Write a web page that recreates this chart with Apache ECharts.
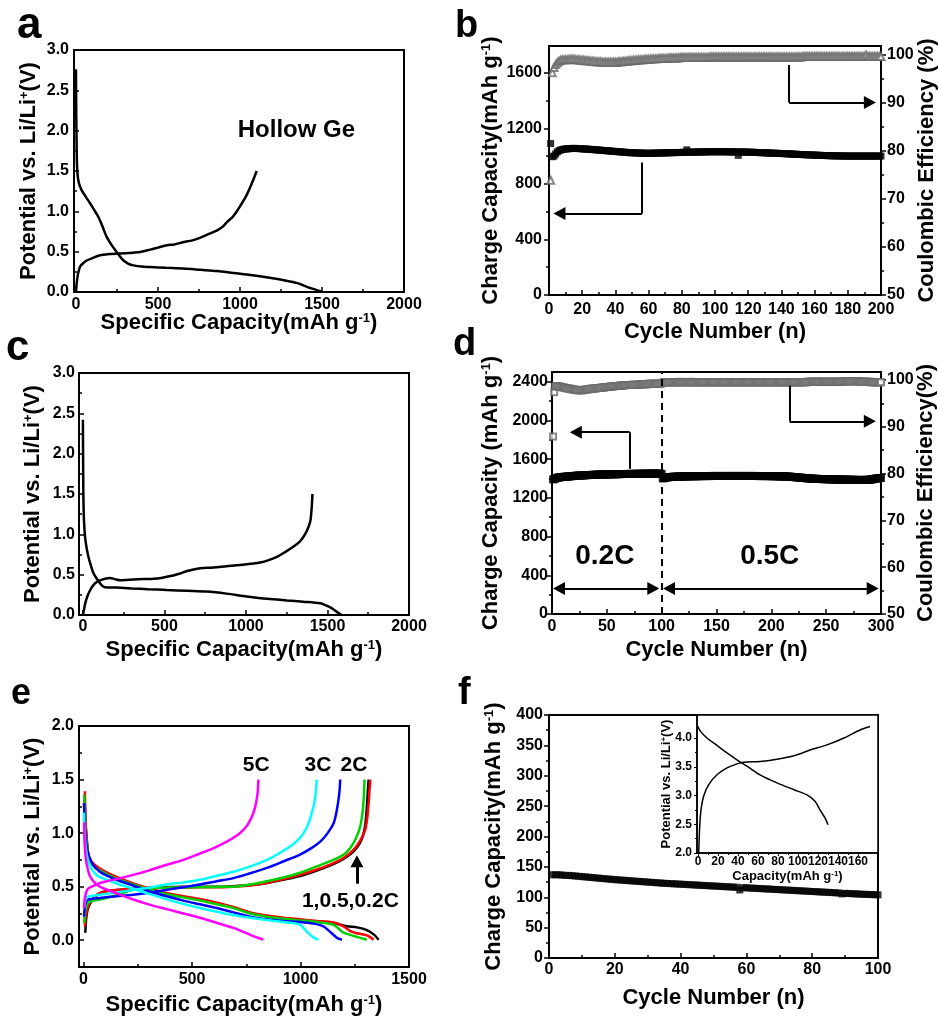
<!DOCTYPE html>
<html><head><meta charset="utf-8">
<script src="https://cdn.jsdelivr.net/npm/echarts@6/dist/echarts.min.js"></script>
<style>html,body{margin:0;padding:0;background:#fff}#c{width:938px;height:1018px}</style>
</head><body><div id="c"></div>
<script>
// ---------------- DATA ----------------
// Panel a: hollow Ge first cycle
const aDischarge = [[0,2.75],[1,2.4],[3,1.97],[6,1.6],[10,1.45],[18,1.35],[35,1.26],[60,1.18],[86,1.10],[110,1.02],[137,0.93],[160,0.82],[188,0.68],[215,0.59],[239,0.52],[265,0.45],[290,0.39],[320,0.35],[351,0.33],[400,0.315],[453,0.31],[550,0.30],[657,0.29],[760,0.275],[861,0.26],[960,0.235],[1065,0.21],[1170,0.18],[1269,0.145],[1350,0.11],[1412,0.06],[1460,0.03],[1504,0.0]];
const aCharge = [[0,0.0],[5,0.12],[12,0.22],[24,0.31],[40,0.35],[65,0.39],[100,0.42],[147,0.455],[200,0.47],[249,0.476],[300,0.48],[351,0.488],[400,0.5],[453,0.525],[500,0.55],[555,0.58],[600,0.59],[657,0.62],[710,0.64],[759,0.675],[810,0.72],[861,0.765],[895,0.81],[922,0.87],[955,0.93],[984,1.01],[1015,1.11],[1045,1.22],[1075,1.36],[1102,1.50]];
// Panel c
const cDischarge = [[0,2.42],[1,2.0],[2,1.7],[3,1.46],[6,1.2],[13,0.97],[22,0.84],[34,0.72],[48,0.62],[64,0.52],[85,0.45],[106,0.39],[120,0.36],[135,0.345],[208,0.34],[300,0.33],[400,0.32],[514,0.31],[640,0.30],[760,0.29],[880,0.265],[1005,0.23],[1130,0.2],[1251,0.18],[1350,0.165],[1456,0.145],[1490,0.12],[1517,0.095],[1540,0.065],[1557,0.04],[1575,0.015],[1588,0.0]];
const cCharge = [[0,0.0],[8,0.08],[15,0.15],[27,0.23],[45,0.31],[64,0.37],[85,0.41],[106,0.43],[135,0.45],[167,0.46],[195,0.445],[229,0.43],[270,0.435],[310,0.44],[370,0.445],[433,0.45],[480,0.46],[514,0.475],[555,0.49],[596,0.515],[640,0.545],[678,0.565],[720,0.58],[800,0.59],[880,0.605],[964,0.62],[1030,0.635],[1087,0.65],[1140,0.68],[1190,0.72],[1240,0.78],[1292,0.85],[1330,0.91],[1353,0.97],[1375,1.05],[1394,1.155],[1402,1.3],[1408,1.50]];
// Panel b: cycles 1..200
const bCapacity = [1090,995,1000,1015,1030,1038,1043,1047,1050,1051,
1052,1053,1054,1055,1055,1055,1054,1054,1053,1052,
1051,1050,1050,1049,1048,1047,1046,1045,1044,1043,
1042,1041,1040,1039,1038,1037,1036,1035,1034,1033,
1032,1031,1030,1029,1028,1027,1026,1025,1024,1024,
1023,1023,1022,1022,1021,1021,1021,1020,1020,1020,
1020,1020,1021,1021,1021,1022,1022,1022,1023,1023,
1023,1024,1024,1024,1025,1025,1025,1026,1026,1026,
1027,1027,1045,1027,1028,1028,1028,1029,1029,1029,
1029,1030,1030,1030,1030,1031,1031,1031,1031,1031,
1031,1031,1031,1031,1031,1031,1031,1030,1030,1030,
1030,1030,1030,1005,1030,1029,1029,1029,1028,1028,
1028,1027,1027,1026,1026,1025,1025,1024,1024,1023,
1023,1022,1022,1021,1021,1020,1020,1019,1019,1018,
1018,1017,1016,1016,1015,1015,1014,1013,1013,1012,
1011,1011,1010,1010,1009,1009,1008,1008,1007,1007,
1006,1006,1005,1005,1004,1004,1003,1003,1003,1002,
1002,1002,1001,1001,1001,1001,1000,1000,1000,1000,
1000,999,1000,1000,999,1000,1000,1000,999,1000,
1000,1000,999,1000,1000,1000,1000,999,1000,1000];
const bEfficiency = [73.9,96.3,97.4,98.0,98.4,98.7,98.9,99.0,99.0,99.0,
99.0,99.1,99.1,99.1,99.1,99.0,99.0,99.0,98.9,98.9,
98.9,98.8,98.8,98.8,98.7,98.7,98.7,98.6,98.6,98.6,
98.6,98.5,98.5,98.5,98.5,98.5,98.5,98.5,98.5,98.5,
98.5,98.6,98.6,98.6,98.7,98.7,98.7,98.8,98.8,98.8,
98.9,98.9,98.9,99.0,99.0,99.0,99.0,99.1,99.1,99.1,
99.1,99.2,99.2,99.2,99.2,99.3,99.3,99.3,99.3,99.3,
99.3,99.4,99.4,99.4,99.4,99.4,99.4,99.4,99.5,99.5,
99.5,99.5,99.5,99.5,99.5,99.5,99.5,99.5,99.5,99.5,
99.5,99.5,99.5,99.5,99.5,99.5,99.6,99.6,99.6,99.6,
99.6,99.6,99.6,99.6,99.6,99.6,99.6,99.6,99.6,99.6,
99.6,99.6,99.6,99.6,99.6,99.6,99.6,99.6,99.6,99.6,
99.6,99.6,99.6,99.6,99.6,99.6,99.6,99.6,99.6,99.6,
99.6,99.6,99.6,99.6,99.6,99.6,99.6,99.6,99.6,99.6,
99.6,99.6,99.6,99.6,99.6,99.6,99.6,99.6,99.6,99.6,
99.6,99.6,99.7,99.7,99.7,99.7,99.7,99.7,99.7,99.7,
99.7,99.7,99.7,99.7,99.7,99.7,99.7,99.7,99.7,99.7,
99.7,99.7,99.7,99.7,99.7,99.7,99.7,99.7,99.7,99.7,
99.7,99.7,99.7,99.7,99.7,99.7,99.7,99.7,99.7,99.7,
100.0,99.7,99.7,99.7,99.7,99.7,99.7,99.7,99.7,99.7];
// Panel d: cycles 1..300
const dCapacity = [1390,1395,1400,1405,1408,1410,1412,1414,1415,1416,
1417,1418,1419,1420,1421,1422,1423,1424,1425,1426,
1427,1428,1429,1430,1430,1431,1432,1432,1433,1434,
1434,1435,1435,1436,1436,1437,1437,1438,1438,1439,
1439,1440,1440,1440,1441,1441,1441,1442,1442,1442,
1443,1443,1443,1443,1444,1444,1444,1444,1445,1445,
1445,1445,1445,1446,1446,1446,1446,1446,1447,1447,
1447,1447,1447,1447,1448,1448,1448,1448,1448,1448,
1448,1449,1449,1449,1449,1449,1449,1449,1449,1450,
1450,1450,1450,1450,1450,1450,1450,1450,1450,1445,
1400,1404,1407,1409,1411,1413,1414,1415,1416,1417,
1418,1418,1419,1419,1420,1420,1420,1421,1421,1421,
1422,1422,1422,1422,1423,1423,1423,1423,1423,1424,
1424,1424,1424,1424,1424,1425,1425,1425,1425,1425,
1425,1425,1425,1425,1426,1426,1426,1426,1426,1426,
1426,1426,1426,1426,1426,1426,1426,1426,1426,1426,
1426,1426,1426,1426,1426,1426,1426,1426,1426,1426,
1426,1426,1426,1426,1426,1426,1426,1426,1426,1426,
1426,1426,1426,1426,1426,1426,1426,1425,1425,1425,
1425,1425,1425,1425,1425,1425,1425,1424,1424,1424,
1424,1424,1424,1423,1423,1423,1423,1422,1422,1422,
1421,1421,1420,1420,1419,1419,1418,1417,1416,1415,
1414,1413,1412,1411,1410,1409,1408,1407,1406,1405,
1404,1403,1402,1401,1400,1399,1398,1398,1397,1397,
1396,1396,1395,1395,1394,1394,1394,1393,1393,1393,
1392,1392,1392,1391,1391,1391,1390,1390,1390,1390,
1389,1389,1389,1389,1388,1388,1388,1388,1387,1387,
1387,1387,1386,1386,1386,1386,1385,1385,1385,1385,
1385,1385,1385,1385,1385,1385,1386,1386,1387,1388,
1390,1392,1394,1396,1398,1400,1402,1404,1405,1406];
const dEfficiency = [87.9,97.4,98.6,98.7,98.7,98.6,98.6,98.5,98.5,98.4,
98.4,98.3,98.3,98.2,98.2,98.1,98.1,98.0,98.0,97.9,
97.9,97.9,97.8,97.8,97.8,97.8,97.8,97.8,97.9,97.9,
97.9,98.0,98.0,98.0,98.1,98.1,98.1,98.2,98.2,98.2,
98.3,98.3,98.3,98.3,98.4,98.4,98.4,98.4,98.5,98.5,
98.5,98.5,98.6,98.6,98.6,98.6,98.7,98.7,98.7,98.7,
98.7,98.8,98.8,98.8,98.8,98.8,98.9,98.9,98.9,98.9,
98.9,98.9,99.0,99.0,99.0,99.0,99.0,99.0,99.0,99.1,
99.1,99.1,99.1,99.1,99.1,99.1,99.1,99.2,99.2,99.2,
99.2,99.2,99.2,99.2,99.2,99.2,99.2,99.2,99.2,99.3,
99.4,99.5,99.5,99.5,99.5,99.5,99.5,99.5,99.5,99.5,
99.5,99.5,99.5,99.5,99.5,99.5,99.6,99.5,99.5,99.5,
99.5,99.5,99.5,99.5,99.5,99.6,99.5,99.5,99.5,99.5,
99.5,99.5,99.5,99.5,99.5,99.5,99.5,99.5,99.5,99.5,
99.5,99.5,99.5,99.5,99.5,99.5,99.5,99.5,99.5,99.5,
99.5,99.5,99.5,99.5,99.5,99.5,99.5,99.5,99.5,99.5,
99.5,99.5,99.5,99.5,99.5,99.5,99.5,99.5,99.5,99.5,
99.5,99.5,99.5,99.5,99.5,99.5,99.5,99.5,99.5,99.5,
99.5,99.5,99.5,99.5,99.5,99.5,99.5,99.5,99.5,99.5,
99.5,99.5,99.5,99.5,99.5,99.5,99.5,99.5,99.5,99.5,
99.5,99.5,99.5,99.5,99.5,99.5,99.5,99.5,99.5,99.5,
99.5,99.5,99.5,99.5,99.5,99.5,99.5,99.5,99.5,99.5,
99.5,99.5,99.5,99.5,99.5,99.5,99.5,99.5,99.5,99.5,
99.5,99.5,99.6,99.6,99.6,99.6,99.6,99.6,99.6,99.6,
99.6,99.6,99.6,99.6,99.6,99.6,99.6,99.6,99.6,99.6,
99.6,99.6,99.6,99.6,99.6,99.6,99.6,99.6,99.6,99.6,
99.6,99.6,99.6,99.6,99.6,99.7,99.7,99.7,99.7,99.7,
99.7,99.7,99.7,99.7,99.7,99.7,99.7,99.7,99.7,99.7,
99.6,99.6,99.6,99.6,99.6,99.6,99.6,99.6,99.6,99.6,
99.5,99.5,99.5,99.5,99.5,99.5,99.5,99.5,99.5,99.5];
// Panel e: rate capability (charge = rising, discharge = falling)
const eNames = ['0.2C','0.5C','1C','2C','3C','5C'];
const eColors = ['#000000','#ff0000','#00d000','#0000ff','#00ffff','#ff00ff'];
const eCharge = [
 [[8,0.07],[12,0.2],[18,0.28],[29,0.34],[50,0.4],[75,0.44],[110,0.46],[152,0.47],[229,0.48],[306,0.49],[383,0.495],[460,0.5],[537,0.5],[614,0.5],[691,0.505],[768,0.515],[845,0.535],[920,0.565],[998,0.60],[1075,0.65],[1152,0.71],[1200,0.76],[1245,0.83],[1275,0.91],[1291,1.0],[1300,1.1],[1306,1.25],[1310,1.38],[1314,1.50]],
 [[6,0.13],[10,0.22],[18,0.3],[29,0.35],[50,0.41],[75,0.44],[110,0.46],[152,0.47],[229,0.48],[306,0.488],[383,0.49],[460,0.492],[537,0.495],[614,0.495],[691,0.5],[768,0.51],[845,0.535],[920,0.57],[998,0.61],[1075,0.66],[1152,0.72],[1200,0.77],[1245,0.845],[1275,0.93],[1298,1.03],[1308,1.15],[1314,1.28],[1318,1.4],[1322,1.50]],
 [[3,0.16],[6,0.25],[12,0.31],[22,0.35],[45,0.37],[75,0.38],[152,0.42],[229,0.47],[306,0.485],[383,0.49],[460,0.493],[537,0.495],[614,0.498],[691,0.50],[768,0.52],[845,0.55],[920,0.585],[998,0.63],[1075,0.69],[1152,0.75],[1200,0.80],[1229,0.86],[1255,0.95],[1275,1.06],[1285,1.18],[1291,1.31],[1293,1.4],[1295,1.50]],
 [[2,0.22],[5,0.3],[10,0.35],[22,0.38],[75,0.395],[152,0.41],[229,0.425],[306,0.445],[383,0.47],[460,0.495],[537,0.52],[614,0.55],[691,0.58],[768,0.625],[845,0.675],[920,0.735],[998,0.80],[1050,0.86],[1091,0.92],[1125,1.0],[1152,1.09],[1165,1.19],[1175,1.31],[1180,1.4],[1183,1.50]],
 [[2,0.30],[8,0.37],[15,0.40],[29,0.41],[75,0.425],[150,0.445],[229,0.47],[300,0.49],[383,0.52],[460,0.54],[537,0.565],[610,0.6],[691,0.64],[770,0.69],[845,0.75],[900,0.81],[952,0.875],[985,0.93],[1014,1.0],[1035,1.08],[1052,1.19],[1062,1.27],[1068,1.34],[1075,1.50]],
 [[2,0.30],[5,0.38],[11,0.44],[20,0.48],[37,0.50],[70,0.53],[106,0.55],[160,0.575],[229,0.61],[300,0.65],[383,0.705],[460,0.75],[537,0.81],[600,0.86],[660,0.92],[705,0.975],[737,1.03],[760,1.09],[783,1.19],[795,1.28],[802,1.37],[806,1.50]]
];
const eDischarge = [
 [[5,1.32],[8,1.15],[11,1.02],[16,0.9],[22,0.8],[35,0.73],[60,0.68],[100,0.635],[152,0.585],[229,0.525],[306,0.475],[383,0.435],[460,0.405],[537,0.38],[614,0.345],[691,0.305],[768,0.255],[845,0.225],[920,0.205],[998,0.19],[1075,0.175],[1152,0.16],[1214,0.13],[1260,0.12],[1306,0.095],[1340,0.05],[1360,0.005]],
 [[6,1.39],[8,1.2],[11,1.06],[16,0.92],[22,0.81],[35,0.74],[60,0.69],[100,0.64],[152,0.59],[229,0.53],[306,0.48],[383,0.44],[460,0.41],[537,0.385],[614,0.35],[691,0.31],[768,0.26],[845,0.23],[920,0.21],[998,0.195],[1075,0.18],[1152,0.165],[1198,0.13],[1230,0.085],[1260,0.065],[1306,0.045],[1337,0.005]],
 [[3,1.36],[5,1.2],[9,1.02],[14,0.9],[22,0.79],[35,0.72],[60,0.67],[100,0.625],[152,0.575],[229,0.52],[306,0.47],[383,0.43],[460,0.4],[537,0.37],[614,0.335],[691,0.3],[768,0.25],[845,0.22],[920,0.2],[998,0.185],[1075,0.17],[1152,0.145],[1180,0.1],[1198,0.07],[1245,0.04],[1280,0.02],[1306,0.005]],
 [[2,1.28],[5,1.1],[8,1.0],[14,0.88],[25,0.78],[45,0.70],[75,0.64],[110,0.60],[152,0.565],[229,0.51],[306,0.455],[383,0.41],[460,0.37],[537,0.335],[614,0.30],[691,0.26],[768,0.22],[845,0.195],[920,0.18],[998,0.17],[1060,0.155],[1106,0.13],[1130,0.09],[1152,0.05],[1170,0.02],[1191,0.005]],
 [[2,1.19],[5,1.0],[10,0.87],[20,0.75],[35,0.67],[60,0.61],[100,0.57],[152,0.53],[229,0.48],[306,0.43],[420,0.36],[537,0.30],[650,0.25],[768,0.21],[880,0.18],[960,0.16],[998,0.145],[1020,0.10],[1045,0.05],[1065,0.02],[1083,0.005]],
 [[2,1.1],[5,0.9],[11,0.75],[20,0.66],[29,0.60],[50,0.54],[75,0.50],[150,0.44],[229,0.38],[300,0.335],[383,0.29],[460,0.25],[537,0.21],[610,0.165],[691,0.115],[740,0.075],[768,0.05],[800,0.025],[829,0.005]]
];
// Panel f: cycles 1..100
const fCapacity = [137,137,137,136.5,136,136,135.5,135,134.5,134,
133.5,133,132.5,132,131.5,131,130.5,130,129.5,129,
128.6,128.2,127.8,127.4,127,126.6,126.2,125.8,125.4,125,
124.6,124.2,123.8,123.4,123,122.7,122.4,122.1,121.8,121.5,
121.2,120.9,120.6,120.3,120,119.7,119.4,119.1,118.8,118.5,
118.2,117.9,117.6,117.3,117,116.7,116.4,112,115.8,115.5,
115.2,114.9,114.6,114.3,114,113.7,113.4,113.1,112.8,112.5,
112.2,111.9,111.6,111.3,111,110.7,110.4,110.1,109.8,109.5,
109.2,108.9,108.6,108.3,108,107.7,107.4,107.1,105.5,106.5,
106.2,105.9,105.6,105.3,105,104.8,104.6,104.4,104.2,104];
// Panel f inset
const insetDischarge = [[0,4.20],[2.3,4.12],[9,4.0],[19,3.87],[29,3.74],[39,3.62],[49,3.51],[62,3.36],[79,3.22],[96,3.10],[109,3.01],[117,2.90],[122,2.75],[127,2.61],[130,2.49]];
const insetCharge = [[0.7,2.0],[1.7,2.46],[3,2.75],[5.7,2.99],[10.7,3.19],[19,3.36],[29,3.48],[39,3.55],[45.7,3.58],[62,3.59],[79,3.63],[96,3.69],[112,3.79],[129,3.88],[146,4.0],[162,4.14],[172,4.20]];
// Tick label values
const capTicksA = [0,500,1000,1500,2000];
const potTicksA = [0,0.5,1.0,1.5,2.0,2.5,3.0];
const cycTicksB = [0,20,40,60,80,100,120,140,160,180,200];
const capTicksB = [0,400,800,1200,1600];
const ceTicks = [50,60,70,80,90,100];
const cycTicksD = [0,50,100,150,200,250,300];
const capTicksD = [0,400,800,1200,1600,2000,2400];
const capTicksE = [0,500,1000,1500];
const potTicksE = [0,0.5,1.0,1.5,2.0];
const cycTicksF = [0,20,40,60,80,100];
const capTicksF = [0,50,100,150,200,250,300,350,400];
const insetXTicks = [0,20,40,60,80,100,120,140,160];
const insetYTicks = [2.0,2.5,3.0,3.5,4.0];
// Annotations (data coordinates)
const bArrowLeft = [[56.1,954],[56.1,586],[6.3,586]];
const bArrowRight = [[144.7,1655],[144.7,1386],[193.3,1386]];
const dArrowLeft = [[70.8,1500],[70.8,1878],[21.7,1878]];
const dArrowRight = [[216.7,2359],[216.7,1991],[289.8,1991]];
const dSpan1 = [[6.4,264],[92.4,264]];
const dSpan2 = [[106.7,264],[292.4,264]];
const dRateSwitch = 100;
const eArrow = [[1260,0.528],[1260,0.737]];
const aLabels = [{text:'Hollow Ge', pos:[1347,2.0]}];
const dLabels = [{text:'0.2C', pos:[48.6,590]},{text:'0.5C', pos:[199,590]}];
const eLabels = [{text:'5C', pos:[798,1.627]},{text:'3C', pos:[1083,1.627]},{text:'2C', pos:[1249,1.627]},{text:'1,0.5,0.2C', pos:[1232,0.36]}];

// ---------------- BUILD ----------------
const FONT = '"Liberation Sans", Arial, Helvetica, sans-serif';
const grids = [], xAxis = [], yAxis = [], series = [];
const minorOf = (ticks) => { const out=[]; for (let i=0;i<ticks.length-1;i++) out.push((ticks[i]+ticks[i+1])/2); return out; };

function addGrid(left, top, width, height, extra) {
  grids.push(Object.assign({left, top, width, height, show:true, borderColor:'#000', borderWidth:2,
    backgroundColor:'transparent', containLabel:false, outerBoundsMode:'none'}, extra||{}));
  return grids.length - 1;
}
function nameStyle(size, sup) {
  return {fontSize:size, fontWeight:'bold', fontFamily:FONT, color:'#000',
    rich:{s:{fontSize:sup, fontWeight:'bold', fontFamily:FONT, color:'#000', verticalAlign:'top'}}};
}
function addAxes(list, gi, c) {
  const idx = list.length;
  list.push({type:'value', gridIndex:gi, min:c.min, max:c.max, position:c.pos,
    splitLine:{show:false},
    axisLine:{show:true, onZero:false, lineStyle:{color:'#000', width:c.lw||2}},
    axisTick:{show:true, inside:c.inside, length:c.tl||5, customValues:c.major, lineStyle:{color:'#000', width:c.tw||1.5}},
    axisLabel:{show:true, customValues:c.major, formatter:c.fmt||(v=>String(v)), fontSize:c.fs||16, fontWeight:'bold',
      fontFamily:FONT, color:'#000', margin:c.margin, hideOverlap:false},
    name:c.name, nameLocation:'middle', nameGap:c.gap, nameRotate:c.rot, nameMoveOverlap:false,
    nameTextStyle:nameStyle(c.nfs||22, c.sfs||13)});
  list.push({type:'value', gridIndex:gi, min:c.min, max:c.max, position:c.pos, splitLine:{show:false},
    axisLine:{show:false, onZero:false}, axisLabel:{show:false},
    axisTick:{show:true, inside:c.inside, length:c.mtl||3, customValues:c.minor||minorOf(c.major), lineStyle:{color:'#000', width:c.tw||1.5}}});
  return idx;
}
const f1 = v => v.toFixed(1);
function addLine(xi, yi, data, color, width) {
  series.push({type:'line', xAxisIndex:xi, yAxisIndex:yi, data, showSymbol:false, symbol:'none', smooth:0.3,
    lineStyle:{color, width}, itemStyle:{color}, silent:true, clip:true, z:3});
}
function addLabels(xi, yi, items, fs) {
  series.push({type:'scatter', xAxisIndex:xi, yAxisIndex:yi, symbolSize:1, itemStyle:{color:'rgba(255,255,255,0)'}, silent:true, z:6,
    label:{show:true, position:[0,0], align:'center', verticalAlign:'middle', fontSize:fs, fontWeight:'bold', fontFamily:FONT,
      color:'#000', opacity:1, textBorderWidth:0, formatter:p=>p.data.text},
    labelLayout:{hideOverlap:false},
    data: items.map(it=>({value:it.pos, text:it.text}))});
}
function polyArrow(pts) {
  const out = [];
  for (let i=0;i<pts.length-1;i++) {
    const last = i === pts.length-2;
    out.push([{coord:pts[i], symbol:'none'}, {coord:pts[i+1], symbol:last?'triangle':'none', symbolSize:[13,12]}]);
  }
  return out;
}
function doubleArrow(pts) {
  return [[{coord:pts[0], symbol:'triangle', symbolSize:[13,12]}, {coord:pts[1], symbol:'triangle', symbolSize:[13,12]}]];
}
const mlBase = {silent:true, animation:false, symbol:['none','none'], label:{show:false}, lineStyle:{color:'#000', width:2, type:'solid'}, emphasis:{disabled:true}};
const cyc = arr => arr.map((v,i)=>[i+1, v]);

// Panel a
let g = addGrid(74, 50, 330, 242);
let xi = addAxes(xAxis, g, {min:-12, max:2000, pos:'bottom', inside:true, major:capTicksA, margin:5,
  name:'Specific Capacity(mAh g{s|-1})', gap:20});
let yi = addAxes(yAxis, g, {min:0, max:3, pos:'left', inside:true, major:potTicksA, fmt:f1, margin:5,
  name:'Potential vs. Li/Li{s|+}(V)', gap:34, rot:90});
addLine(xi, yi, aDischarge, '#000', 2.5);
addLine(xi, yi, aCharge, '#000', 2.5);
addLabels(xi, yi, aLabels, 24);

// Panel b
g = addGrid(549, 46, 332, 249);
xi = addAxes(xAxis, g, {min:0, max:200, pos:'bottom', inside:true, major:cycTicksB, margin:7, name:'Cycle Number (n)', gap:26});
yi = addAxes(yAxis, g, {min:0, max:1792, pos:'left', inside:false, major:capTicksB, margin:7,
  name:'Charge Capacity(mAh g{s|-1})', gap:47, rot:90});
let yr = addAxes(yAxis, g, {min:50, max:101.88, pos:'right', inside:false, major:ceTicks, margin:6,
  name:'Coulombic Efficiency (%)', gap:35, rot:90});
series.push({type:'scatter', xAxisIndex:xi, yAxisIndex:yr, data:cyc(bEfficiency), symbol:'emptyTriangle', symbolSize:7,
  itemStyle:{color:'#6a6a6a', borderWidth:1}, silent:true, z:3});
series.push({type:'scatter', xAxisIndex:xi, yAxisIndex:yi, data:cyc(bCapacity), symbol:'rect', symbolSize:7,
  itemStyle:{color:'#000'}, silent:true, z:3,
  markLine:Object.assign({}, mlBase, {data:[...polyArrow(bArrowLeft), ...polyArrow(bArrowRight)]})});

// Panel c
g = addGrid(79, 373, 330, 242);
xi = addAxes(xAxis, g, {min:-24, max:2000, pos:'bottom', inside:true, major:capTicksA, margin:4,
  name:'Specific Capacity(mAh g{s|-1})', gap:24});
yi = addAxes(yAxis, g, {min:0, max:3, pos:'left', inside:true, major:potTicksA, fmt:f1, margin:4,
  name:'Potential vs. Li/Li{s|+}(V)', gap:35, rot:90});
addLine(xi, yi, cDischarge, '#000', 2.5);
addLine(xi, yi, cCharge, '#000', 2.5);

// Panel d
g = addGrid(552, 372, 329, 242);
xi = addAxes(xAxis, g, {min:0, max:300, pos:'bottom', inside:true, major:cycTicksD, margin:5, name:'Cycle Number (n)', gap:25});
yi = addAxes(yAxis, g, {min:0, max:2500, pos:'left', inside:false, major:capTicksD, margin:4,
  name:'Charge Capacity (mAh g{s|-1})', gap:50, rot:90});
yr = addAxes(yAxis, g, {min:50, max:101.7, pos:'right', inside:false, major:ceTicks, margin:6,
  name:'Coulombic Efficiency(%)', gap:34, rot:90});
series.push({type:'scatter', xAxisIndex:xi, yAxisIndex:yr, data:cyc(dEfficiency), symbol:'emptyRect', symbolSize:6,
  itemStyle:{color:'#6a6a6a', borderWidth:1}, silent:true, z:3});
series.push({type:'scatter', xAxisIndex:xi, yAxisIndex:yi, data:cyc(dCapacity), symbol:'rect', symbolSize:8,
  itemStyle:{color:'#000'}, silent:true, z:3,
  markLine:Object.assign({}, mlBase, {data:[...polyArrow(dArrowLeft), ...polyArrow(dArrowRight), ...doubleArrow(dSpan1), ...doubleArrow(dSpan2),
    {xAxis:dRateSwitch, lineStyle:{type:[7,5], width:2, color:'#000'}}]})});
addLabels(xi, yi, dLabels, 28);

// Panel e
g = addGrid(79, 726, 330, 241);
xi = addAxes(xAxis, g, {min:-21, max:1500, pos:'bottom', inside:true, major:capTicksE, margin:5,
  name:'Specific Capacity(mAh g{s|-1})', gap:27});
yi = addAxes(yAxis, g, {min:-0.25, max:2.0, pos:'left', inside:true, major:potTicksE, fmt:f1, margin:5,
  name:'Potential vs. Li/Li{s|+}(V)', gap:35, rot:90});
for (let k=0;k<eNames.length;k++) {
  addLine(xi, yi, eDischarge[k], eColors[k], 2.5);
  addLine(xi, yi, eCharge[k], eColors[k], 2.5);
}
series.push({type:'scatter', xAxisIndex:xi, yAxisIndex:yi, data:[], silent:true,
  markLine:Object.assign({}, mlBase, {lineStyle:{color:'#000', width:3, type:'solid'}, data:polyArrow(eArrow)})});
addLabels(xi, yi, eLabels, 21);

// Panel f
g = addGrid(549, 715, 329, 243);
xi = addAxes(xAxis, g, {min:0, max:100, pos:'bottom', inside:true, major:cycTicksF, margin:4, name:'Cycle Number (n)', gap:29});
yi = addAxes(yAxis, g, {min:0, max:400, pos:'left', inside:false, major:capTicksF, margin:6,
  name:'Charge Capacity(mAh g{s|-1})', gap:44, rot:90});
series.push({type:'scatter', xAxisIndex:xi, yAxisIndex:yi, data:cyc(fCapacity), symbol:'rect', symbolSize:7,
  itemStyle:{color:'#000'}, silent:true, z:3});

// Inset
g = addGrid(697, 715, 181, 138, {backgroundColor:'#fff', borderWidth:1.5});
xi = addAxes(xAxis, g, {min:-1, max:180, pos:'bottom', inside:false, major:insetXTicks, margin:3, fs:12, lw:1.5, tw:1, tl:3, mtl:2,
  name:'Capacity(mAh g{s|-1})', gap:17, nfs:13, sfs:8});
yi = addAxes(yAxis, g, {min:2.0, max:4.4, pos:'left', inside:false, major:insetYTicks, fmt:f1, margin:5, fs:12, lw:1.5, tw:1, tl:3, mtl:2,
  name:'Potential vs. Li/Li{s|+}(V)', gap:24, rot:90, nfs:13, sfs:8});
addLine(xi, yi, insetDischarge, '#000', 1.5);
addLine(xi, yi, insetCharge, '#000', 1.5);

// Panel letters
const letters = [['a',17,26,44],['b',455,27,38],['c',6,348,42],['d',453,345,38],['e',11,694,36],['f',458,694,38]];
const graphic = letters.map(([t,x,y,s]) => ({type:'text', x, y, silent:true,
  style:{text:t, font:'bold '+s+'px '+FONT, fill:'#000', align:'left', verticalAlign:'middle'}}));

const chart = echarts.init(document.getElementById('c'), null, {renderer:'canvas'});
chart.setOption({animation:false, backgroundColor:'#fff', textStyle:{fontFamily:FONT},
  grid:grids, xAxis, yAxis, series, graphic});
</script></body></html>
